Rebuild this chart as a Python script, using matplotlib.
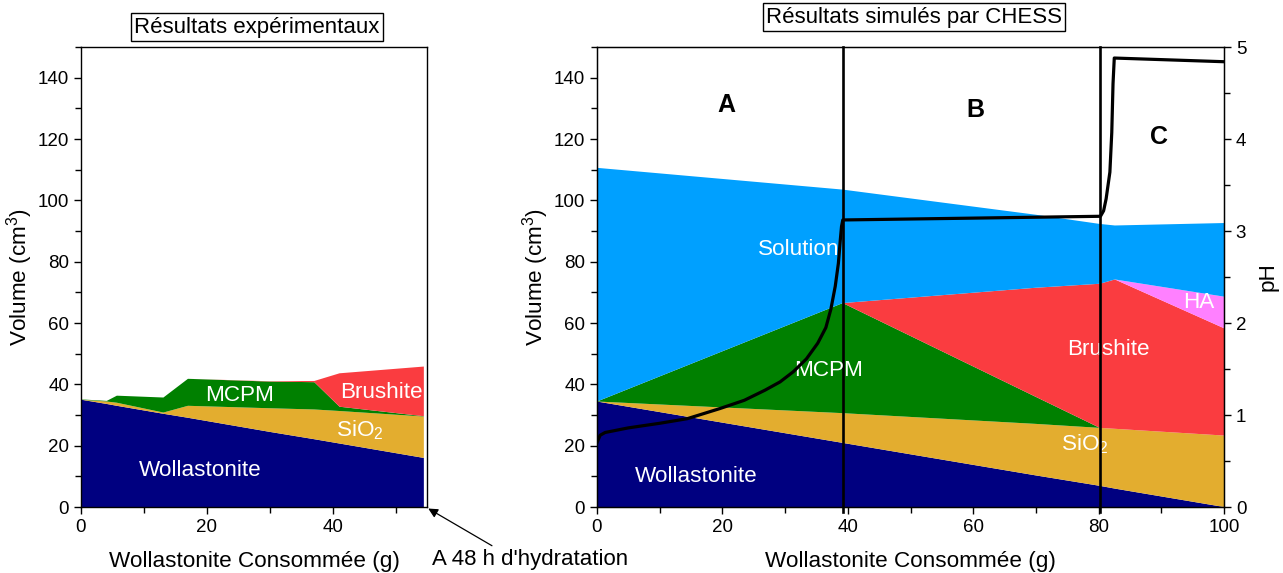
import matplotlib
matplotlib.use("Agg")
import matplotlib.pyplot as plt
from matplotlib.ticker import MultipleLocator

plt.rcParams['font.family'] = ['Liberation Sans', 'DejaVu Sans']

# ---------------- data ----------------
layer_names = ["Wollastonite", "SiO2", "MCPM", "Brushite", "HA", "Solution"]
layer_colors = ["#000080", "#E3AD2F", "#008000", "#FA3C40", "#FF80FF", "#00A0FF"]

# experimental (left)
exp_x = [0, 4.1, 5.7, 13.1, 17.0, 30.0, 37.1, 41.1, 54.5]
exp_wollastonite = [35.0, 33.6, 33.0, 30.4, 29.1, 24.5, 22.1, 20.7, 16.0]
exp_sio2 = [0.0, 0.8, 1.0, 0.4, 3.9, 7.7, 9.7, 10.6, 13.5]
exp_mcpm = [0.1, 0.2, 2.3, 4.9, 8.8, 8.7, 8.9, 1.4, 0.1]
exp_brushite = [0.0, 0.0, 0.0, 0.0, 0.0, 0.1, 0.4, 10.9, 16.2]

# simulated (right)
sim_x = [0, 39.2, 70, 80.2, 82.6, 100]
sim_wollastonite = [34.4, 20.9, 10.3, 6.9, 6.0, 0.0]
sim_sio2 = [0.0, 9.7, 16.8, 18.9, 19.5, 23.3]
sim_mcpm = [0.0, 35.9, 8.8, 0.0, 0.0, 0.0]
sim_brushite = [0.0, 0.0, 35.6, 47.0, 48.7, 35.0]
sim_ha = [0.0, 0.0, 0.0, 0.0, 0.0, 10.3]
sim_solution = [76.2, 37.0, 23.8, 19.5, 17.6, 24.0]

# pH curve (right axis)
ph_x = [0, 0.5, 1.3, 5, 10, 14.4, 19.6, 23.5, 26.8, 29.2, 31.3, 33.4, 35.2, 36.5,
        37.3, 38.0, 38.5, 38.8, 39.0, 39.2, 60, 80.3, 80.8, 81.2, 81.8, 82.1,
        82.3, 82.5, 100]
ph_y = [0.70, 0.78, 0.81, 0.86, 0.91, 0.96, 1.07, 1.16, 1.27, 1.36, 1.47, 1.61,
        1.78, 1.95, 2.15, 2.40, 2.65, 2.90, 3.05, 3.12, 3.14, 3.16, 3.22, 3.35,
        3.64, 4.07, 4.60, 4.88, 4.84]

zone_bounds = [39.2, 80.2]
zone_labels = ["A", "B", "C"]

# ---------------- figure ----------------
W, H = 1283, 573
fig = plt.figure(figsize=(W / 100, H / 100), dpi=100)

def frac(l, t, r, b):
    return [l / W, 1 - b / H, (r - l) / W, (b - t) / H]

ax1 = fig.add_axes(frac(81, 47, 427, 507))
ax2 = fig.add_axes(frac(597, 47, 1224, 507))

ax1.stackplot(exp_x, exp_wollastonite, exp_sio2, exp_mcpm, exp_brushite,
              colors=layer_colors[:4], linewidth=0)
ax2.stackplot(sim_x, sim_wollastonite, sim_sio2, sim_mcpm, sim_brushite,
              sim_ha, sim_solution, colors=layer_colors, linewidth=0)

for ax, xmax in ((ax1, 55), (ax2, 100)):
    ax.set_xlim(0, xmax)
    ax.set_ylim(0, 150)
    ax.yaxis.set_major_locator(MultipleLocator(20))
    ax.yaxis.set_minor_locator(MultipleLocator(10))
    ax.xaxis.set_major_locator(MultipleLocator(20))
    ax.xaxis.set_minor_locator(MultipleLocator(10))
    ax.set_yticks(range(0, 141, 20))
    ax.tick_params(which='both', direction='out', labelsize=13.5, width=1.0)
    ax.tick_params(which='major', length=5)
    ax.tick_params(which='minor', length=4)
    for s in ax.spines.values():
        s.set_linewidth(1.0)
    ax.set_xlabel("Wollastonite Consommée (g)", fontsize=16.2, labelpad=11)
    ax.set_ylabel("Volume (cm$^\\mathregular{3}$)", fontsize=16.2, labelpad=2)

# vertical zone boundaries
for xb in zone_bounds:
    ax2.plot([xb, xb], [-1.5, 150], color='black', lw=1.9, zorder=5,
             clip_on=False)

# pH axis
ax3 = ax2.twinx()
ax3.set_position(ax2.get_position())
ax3.set_ylim(0, 5)
ax3.set_xlim(0, 100)
ax3.yaxis.set_major_locator(MultipleLocator(1))
ax3.yaxis.set_minor_locator(MultipleLocator(0.5))
ax3.tick_params(which='both', direction='out', labelsize=13.5, width=1.0)
ax3.tick_params(which='major', length=5)
ax3.tick_params(which='minor', length=4)
ax3.plot(ph_x, ph_y, color='black', lw=2.3)
ax3.set_ylabel("pH", fontsize=16.2, rotation=90, labelpad=8)

# text labels left
tkw = dict(color='white', fontsize=16.2, ha='center', va='center')
ax1.text(25.2, 36.5, "MCPM", **tkw)
ax1.text(47.8, 37.5, "Brushite", **tkw)
ax1.text(44.3, 25.0, "SiO$_\\mathregular{2}$", **tkw)
ax1.text(19.0, 12.0, "Wollastonite", **tkw)

# text labels right
ax2.text(32.2, 84.0, "Solution", **tkw)
ax2.text(37.0, 44.5, "MCPM", zorder=6, **tkw)
ax2.text(81.5, 51.5, "Brushite", zorder=4, **tkw)
ax2.text(96.0, 66.6, "HA", **tkw)
ax2.text(77.8, 20.5, "SiO$_\\mathregular{2}$", **tkw)
ax2.text(15.8, 10.0, "Wollastonite", **tkw)
for lab, (xx, yy) in zip(zone_labels, [(20.6, 131.2), (60.3, 129.6), (89.6, 120.8)]):
    ax2.text(xx, yy, lab, fontsize=18, fontweight='bold', ha='center', va='center')

# boxed titles
bbox = dict(boxstyle='square,pad=0.15', fc='white', ec='black', lw=1.0)
fig.text(257 / W, 1 - 27 / H, "Résultats expérimentaux", fontsize=16,
         ha='center', va='center', bbox=bbox)
fig.text(914 / W, 1 - 17 / H, "Résultats simulés par CHESS", fontsize=16,
         ha='center', va='center', bbox=bbox)

# annotation
ax1.annotate("A 48 h d'hydratation", xy=(55.2, -0.5), xycoords='data',
             xytext=(432 / W, 1 - 559 / H), textcoords='figure fraction',
             fontsize=16, ha='left', va='center', annotation_clip=False,
             arrowprops=dict(arrowstyle='-|>', color='black', lw=0.9,
                             mutation_scale=14, shrinkA=0, shrinkB=0,
                             relpos=(0.33, 1.0)))

fig.savefig("out.png", dpi=100)
